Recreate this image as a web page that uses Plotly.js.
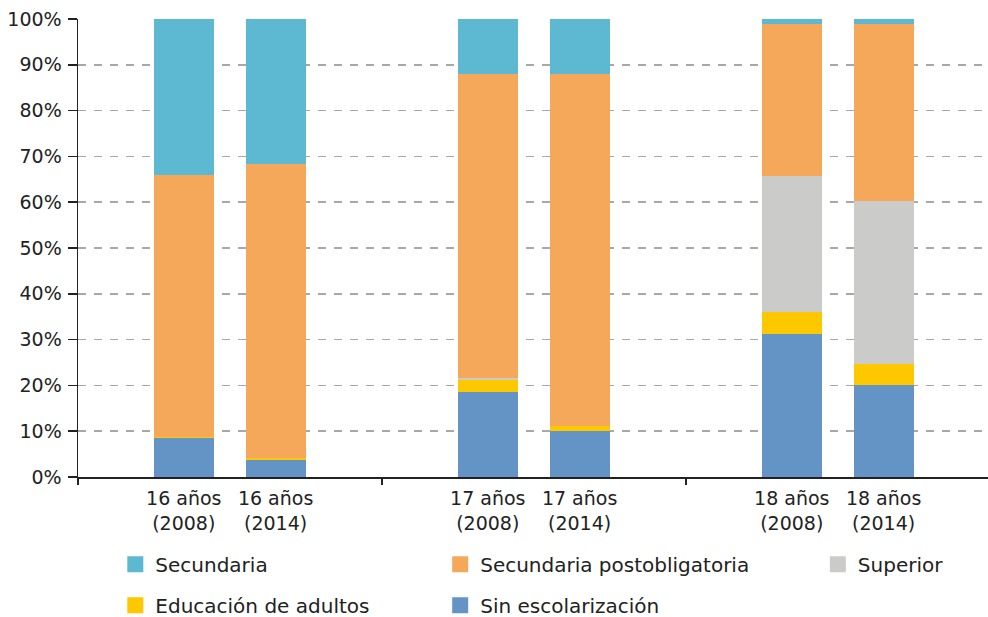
<!DOCTYPE html>
<html>
<head>
<meta charset="utf-8">
<script src="https://cdn.plot.ly/plotly-3.0.1.min.js"></script>
<style>html,body{margin:0;padding:0;background:#fff;}#chart{width:988px;height:617px;}</style>
</head>
<body>
<div id="chart"></div>
<script>
// Data
const ages = ['16 años', '16 años', '17 años', '17 años', '18 años', '18 años'];
const years = ['(2008)', '(2014)', '(2008)', '(2014)', '(2008)', '(2014)'];
const groupIndex = [0, 0, 1, 1, 2, 2];
const sinEscolarizacion = [8.6, 3.8, 18.6, 10.0, 31.2, 20.0];
const educacionAdultos = [0.2, 0.4, 2.5, 1.1, 4.8, 4.7];
const superior = [0, 0, 0.5, 0, 29.7, 35.5];
const secundariaPostobligatoria = [57.2, 64.2, 66.4, 76.9, 33.2, 38.7];
const secundaria = [34.0, 31.6, 12.0, 12.0, 1.1, 1.1];
const yTicks = [0, 10, 20, 30, 40, 50, 60, 70, 80, 90, 100];
const yTickText = yTicks.map(v => v + '%');

// Layout helpers
const offsets = [0.348, 0.65];
const xPos = groupIndex.map((g, i) => g + offsets[i % 2]);
const tickText = ages.map((a, i) => a + '<br>' + years[i]);

const colors = {
  sec: '#5DB8D2', post: '#F6A85A', sup: '#CBCBC9', adu: '#FDC800', sin: '#6394C5'
};

function bar(name, y, color) {
  return {type: 'bar', name: name, x: xPos, y: y, width: 0.197,
    marker: {color: color, line: {width: 0}}, showlegend: false, hoverinfo: 'name+y'};
}
function leg(name, color, legendId, group) {
  return {type: 'scatter', mode: 'markers', name: name, x: [null], y: [null],
    marker: {symbol: 'square', size: 16, color: color}, legend: legendId, legendgroup: group, showlegend: true};
}

const data = [
  bar('Sin escolarización', sinEscolarizacion, colors.sin),
  bar('Educación de adultos', educacionAdultos, colors.adu),
  bar('Superior', superior, colors.sup),
  bar('Secundaria postobligatoria', secundariaPostobligatoria, colors.post),
  bar('Secundaria', secundaria, colors.sec),
  leg('Secundaria', colors.sec, 'legend', 'a'),
  leg('Educación de adultos', colors.adu, 'legend', 'b'),
  leg('Secundaria postobligatoria', colors.post, 'legend2', 'c'),
  leg('Sin escolarización', colors.sin, 'legend2', 'd'),
  leg('Superior', colors.sup, 'legend3', 'e'),
  {type: 'scatter', x: [null], y: [null], xaxis: 'x2', yaxis: 'y', showlegend: false, hoverinfo: 'skip'}
];

const font = {family: 'DejaVu Sans, sans-serif', size: 19, color: '#222'};
const legFont = {family: 'DejaVu Sans, sans-serif', size: 20, color: '#222'};
const legCommon = {orientation: 'v', yanchor: 'top', y: -0.148, xanchor: 'left',
  font: legFont, traceorder: 'grouped', tracegroupgap: 12, bgcolor: 'rgba(0,0,0,0)', itemclick: false};
const xMax = 910 / 304;

const layout = {
  width: 988, height: 617,
  margin: {l: 78, r: 0, t: 19, b: 140, autoexpand: false},
  paper_bgcolor: '#fff', plot_bgcolor: '#fff',
  font: font,
  barmode: 'stack',
  xaxis: {range: [0, xMax], tickvals: xPos, ticktext: tickText, ticks: '', showgrid: false,
    zeroline: false, showline: true, linecolor: '#222', linewidth: 1.5, tickfont: font,
    ticklabelstandoff: 4, automargin: false},
  xaxis2: {overlaying: 'x', anchor: 'y', side: 'bottom', range: [0, xMax], tickvals: [0, 1, 2],
    ticks: 'outside', ticklen: 7, tickwidth: 1.5, tickcolor: '#222', showticklabels: false,
    showgrid: false, zeroline: false, showline: false, automargin: false},
  yaxis: {range: [0, 100], tickvals: yTicks, ticktext: yTickText, ticks: 'outside', ticklen: 9,
    tickwidth: 1.5, tickcolor: '#222', showline: true, linecolor: '#222', linewidth: 1.5,
    showgrid: true, gridcolor: '#A8A8A8', gridwidth: 1.5, griddash: '8px,8px', zeroline: false,
    tickfont: font, ticklabelstandoff: 2, automargin: false},
  legend: Object.assign({x: 0.041}, legCommon),
  legend2: Object.assign({x: 0.398}, legCommon),
  legend3: Object.assign({x: 0.813}, legCommon),
  showlegend: true
};

Plotly.newPlot('chart', data, layout, {displayModeBar: false, staticPlot: true});
</script>
</body>
</html>
